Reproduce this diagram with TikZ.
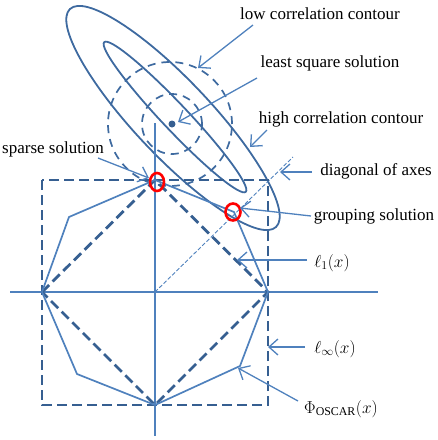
\documentclass[tikz,border=0pt]{standalone}
\usepackage{fontspec}
\setmainfont{Liberation Serif}
\usetikzlibrary{arrows.meta}
\definecolor{axc}{RGB}{79,129,189}
\definecolor{dk}{RGB}{54,95,145}
\definecolor{el}{RGB}{62,106,160}
\begin{document}
\begin{tikzpicture}[x=1pt,y=-1pt,
  lbl/.style={font=\fontsize{17}{19}\selectfont, inner sep=0pt, text=black},
  ptr/.style={draw=axc, line width=1.3pt, -{Straight Barb[length=9pt,width=16pt,line width=1.3pt]}},
  contour/.style={draw=el, line width=1.8pt},
  dcirc/.style={draw=el, line width=1.7pt, dash pattern=on 8pt off 6pt},
  axisline/.style={draw=axc, line width=1.6pt},
  thickdash/.style={draw=dk, line width=2.8pt, dash pattern=on 10pt off 5pt},
  polyline/.style={draw=axc, line width=1.7pt, line join=round},
  ring/.style={draw=red, line width=2.6pt}]
\useasboundingbox (0,0) rectangle (438,440);

% key points
\coordinate (O) at (155,292);
\coordinate (T) at (155,180);
\coordinate (R) at (268,292);
\coordinate (B) at (155,405);
\coordinate (L) at (42,292);
\coordinate (UL) at (69,217);
\coordinate (UR) at (234,212);
\coordinate (LR) at (240,366);
\coordinate (LL) at (77,374);
\coordinate (C) at (173,118);
\coordinate (LS) at (172,124);

% contours
\draw[contour, rotate around={-46.6:(C)}] (C) ellipse [x radius=150pt, y radius=38pt];
\draw[contour, rotate around={-46.6:(175,117)}] (175,117) ellipse [x radius=103pt, y radius=13pt];
\draw[dcirc] (170,124) circle [radius=62pt];
\draw[dcirc] (LS) circle [radius=30pt];
\fill[dk] (LS) circle [radius=3.5pt];

% axes
\coordinate (axT) at (155,123);
\coordinate (axB) at (155,436);
\coordinate (axL) at (10,292);
\coordinate (axR) at (378,292);
\draw[axisline] (axT) -- (axB);
\draw[axisline] (axL) -- (axR);

% diagonal
\coordinate (diagEnd) at (293,157);
\draw[draw=axc, line width=0.9pt, dash pattern=on 4pt off 2pt] (O) -- (diagEnd);

% l_inf square, l1 diamond, OSCAR octagon
\draw[thickdash] (42,180) rectangle (268,405);
\draw[thickdash] (L) -- (T) -- (R) -- (B) -- cycle;
\draw[polyline] (T) -- (UR) -- (R) -- (LR) -- (B) -- (LL) -- (L) -- (UL) -- cycle;

% red rings
\draw[ring] (157,182) ellipse [x radius=7pt, y radius=9pt];
\draw[ring] (233,212) ellipse [x radius=7.5pt, y radius=8.5pt];

% labels
\node[lbl] (nLow) at (320,14) {low correlation contour};
\node[lbl] (nLS) at (330,63) {least square solution};
\node[lbl] (nHigh) at (341,119) {high correlation contour};
\node[lbl] (nSparse) at (53,149) {sparse solution};
\node[lbl] (nDiag) at (376,171) {diagonal of axes};
\node[lbl] (nGroup) at (374,216) {grouping solution};
\node[lbl] (nL1) at (332,263) {$\ell_1(x)$};
\node[lbl] (nLinf) at (335,349) {$\ell_\infty(x)$};
\node[lbl] (nOscar) at (341,409) {$\Phi_{\mathrm{OSCAR}}(x)$};

% arrows
\coordinate (a1s) at (253,25);  \coordinate (a1e) at (198,68);
\coordinate (a2s) at (257,78);  \coordinate (a2e) at (178,122);
\coordinate (a3s) at (267,130); \coordinate (a3e) at (250,147);
\coordinate (a4s) at (98,158);  \coordinate (a4e) at (149,178);
\coordinate (a5s) at (312,172); \coordinate (a5e) at (280,172);
\coordinate (a6s) at (311,216); \coordinate (a6e) at (240,208);
\coordinate (a7s) at (307,260); \coordinate (a7e) at (237,260);
\coordinate (a8s) at (305,347); \coordinate (a8e) at (268,347);
\coordinate (a9s) at (298,401); \coordinate (a9e) at (238,368);
\foreach \s/\e in {a1s/a1e,a2s/a2e,a3s/a3e,a4s/a4e,a5s/a5e,a6s/a6e,a7s/a7e,a8s/a8e,a9s/a9e}
  \draw[ptr] (\s) -- (\e);
\end{tikzpicture}
\end{document}
